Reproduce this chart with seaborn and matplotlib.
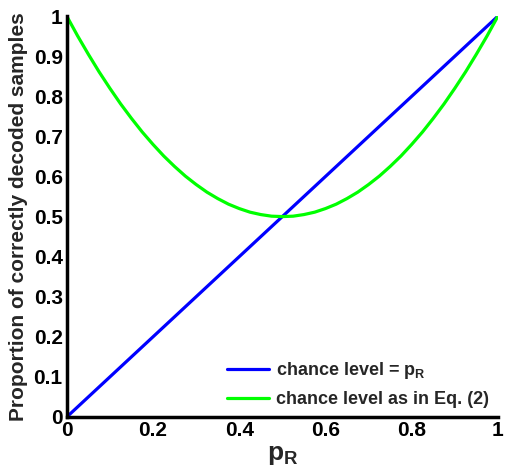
import matplotlib
matplotlib.use("Agg")
import matplotlib.pyplot as plt
import seaborn as sns
import pandas as pd

# Data
p_r = [0.0, 0.025, 0.05, 0.075, 0.10, 0.125, 0.15, 0.175, 0.20, 0.225, 0.25,
       0.275, 0.30, 0.325, 0.35, 0.375, 0.40, 0.425, 0.45, 0.475, 0.50,
       0.525, 0.55, 0.575, 0.60, 0.625, 0.65, 0.675, 0.70, 0.725, 0.75,
       0.775, 0.80, 0.825, 0.85, 0.875, 0.90, 0.925, 0.95, 0.975, 1.0]
chance_pr = [0.0, 0.025, 0.05, 0.075, 0.10, 0.125, 0.15, 0.175, 0.20, 0.225, 0.25,
             0.275, 0.30, 0.325, 0.35, 0.375, 0.40, 0.425, 0.45, 0.475, 0.50,
             0.525, 0.55, 0.575, 0.60, 0.625, 0.65, 0.675, 0.70, 0.725, 0.75,
             0.775, 0.80, 0.825, 0.85, 0.875, 0.90, 0.925, 0.95, 0.975, 1.0]
chance_eq2 = [1.0, 0.951, 0.905, 0.861, 0.82, 0.781, 0.745, 0.711, 0.68, 0.651, 0.625,
              0.601, 0.58, 0.561, 0.545, 0.531, 0.52, 0.511, 0.505, 0.501, 0.50,
              0.501, 0.505, 0.511, 0.52, 0.531, 0.545, 0.561, 0.58, 0.601, 0.625,
              0.651, 0.68, 0.711, 0.745, 0.781, 0.82, 0.861, 0.905, 0.951, 1.0]
x_ticks = [0, 0.2, 0.4, 0.6, 0.8, 1]
y_ticks = [0, 0.1, 0.2, 0.3, 0.4, 0.5, 0.6, 0.7, 0.8, 0.9, 1]
labels = ["chance level = $\\mathbf{p_R}$", "chance level as in Eq. (2)"]

sns.set_style("white")
plt.rcParams['font.family'] = ['Liberation Sans', 'DejaVu Sans']
plt.rcParams['font.weight'] = 'bold'
plt.rcParams['mathtext.fontset'] = 'custom'
plt.rcParams['mathtext.rm'] = 'Liberation Sans:bold'
plt.rcParams['mathtext.it'] = 'Liberation Sans:bold'
plt.rcParams['mathtext.bf'] = 'Liberation Sans:bold'

df = pd.DataFrame({"p": p_r, "a": chance_pr, "b": chance_eq2})

fig = plt.figure(figsize=(5.06, 4.76), dpi=100)
ax = fig.add_axes([0.132, 0.124, 0.852, 0.842])

sns.lineplot(data=df, x="p", y="a", ax=ax, color="#0000ff", lw=2.3, label=labels[0])
sns.lineplot(data=df, x="p", y="b", ax=ax, color="#00ff00", lw=2.3, label=labels[1])

ax.set_xlim(0, 1)
ax.set_ylim(0, 1)
ax.set_xticks(x_ticks)
ax.set_xticklabels([f"{t:g}" for t in x_ticks])
ax.set_yticks(y_ticks)
ax.set_yticklabels([f"{t:g}" for t in y_ticks])
ax.tick_params(direction="in", length=5, width=2, labelsize=15, pad=3,
               colors="black")
for lbl in ax.get_xticklabels() + ax.get_yticklabels():
    lbl.set_fontweight("bold")
for s in ["top", "right"]:
    ax.spines[s].set_visible(False)
for s in ["left", "bottom"]:
    ax.spines[s].set_linewidth(2.5)
    ax.spines[s].set_color("black")

ax.set_xlabel("$\\mathbf{p_R}$", fontsize=19, labelpad=2)
ax.set_ylabel("Proportion of correctly decoded samples", fontsize=15,
              fontweight="bold", labelpad=4)

leg = ax.legend(loc="lower right", frameon=False, fontsize=13,
                handlelength=2.3, handletextpad=0.4, borderaxespad=0.1,
                labelspacing=0.55)
for t in leg.get_texts():
    t.set_fontweight("bold")

fig.savefig("out.png", dpi=100)
